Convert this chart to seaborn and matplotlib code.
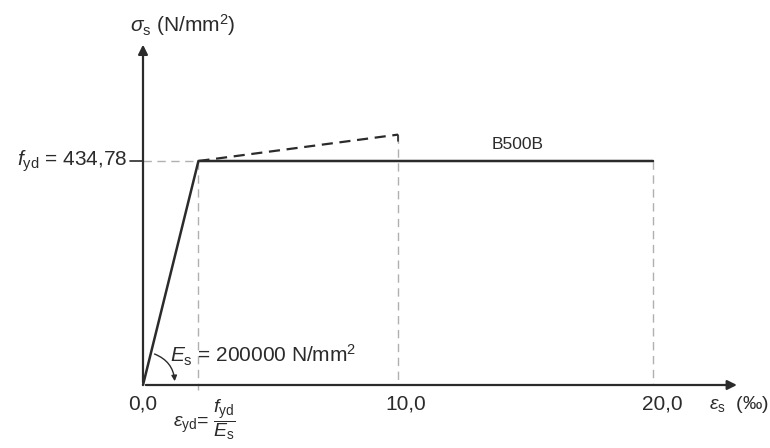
import numpy as np
import matplotlib
matplotlib.use("Agg")
import matplotlib.pyplot as plt
import seaborn as sns

# steel stress-strain diagram B500B
f_yd = 434.78
E_s = 200000.0
eps_yd = f_yd / E_s * 1000  # in permille

curve_eps = [0.0, eps_yd, 20.0]
curve_sig = [0.0, f_yd, f_yd]

hard_eps = [eps_yd, 10.0]
hard_sig = [f_yd, 486.0]

tick_vals = [0.0, 10.0, 20.0]
tick_labels = ["0,0", "10,0", "20,0"]
tick_pos = [0.0, 10.3, 20.35]

sns.set_style("white")
plt.rcParams["font.family"] = ["Liberation Sans", "DejaVu Sans"]
plt.rcParams["mathtext.fontset"] = "custom"
plt.rcParams["mathtext.rm"] = "Liberation Sans"
plt.rcParams["mathtext.it"] = "Liberation Sans:italic"

fig = plt.figure(figsize=(7.7, 4.48), dpi=100)
ax = fig.add_axes([0, 0, 1, 1])
ax.set_xlim(-143 / 25.5, (770 - 143) / 25.5)
ax.set_ylim(-(448 - 385) / 0.5152, 385 / 0.5152)
ax.axis("off")

dark = "#2b2b2b"
light = "#b0b0b0"

# axes with arrows
ax.annotate("", xy=(23.4, 0), xytext=(0, 0),
            arrowprops=dict(arrowstyle="-|>", color=dark, lw=1.6, mutation_scale=14))
ax.annotate("", xy=(0, 666), xytext=(0, 0),
            arrowprops=dict(arrowstyle="-|>", color=dark, lw=1.6, mutation_scale=14))

# helper dashed lines
ax.plot([0, eps_yd], [f_yd, f_yd], ls=(0, (6, 4)), color=light, lw=1)
ax.plot([-0.5, 0], [f_yd, f_yd], color=dark, lw=1.2)
ax.plot([eps_yd, eps_yd], [f_yd, -10], ls=(0, (6, 4)), color=light, lw=1)
ax.plot([hard_eps[1], hard_eps[1]], [hard_sig[1], 0], ls=(0, (6, 4)), color=light, lw=1)
ax.plot([curve_eps[2], curve_eps[2]], [curve_sig[2], 0], ls=(0, (6, 4)), color=light, lw=1)
ax.plot([hard_eps[1], hard_eps[1]], [hard_sig[1], hard_sig[1] - 12], color=dark, lw=1.2)

# design curves
sns.lineplot(x=curve_eps, y=curve_sig, ax=ax, color=dark, lw=1.8, sort=False)
sns.lineplot(x=hard_eps, y=hard_sig, ax=ax, color=dark, lw=1.6, sort=False,
             linestyle=(0, (5, 3)))

# angle arc for E_s
ax.annotate("", xy=(1.25, 2), xytext=(0.35, 62),
            arrowprops=dict(arrowstyle="-|>", color=dark, lw=1,
                            connectionstyle="arc3,rad=-0.35", mutation_scale=8))

# texts
fs = 15
for p, lab in zip(tick_pos, tick_labels):
    ax.text(p, -37, lab, ha="center", va="center", fontsize=fs, color=dark)
ax.text(24.55, -37, r"$\varepsilon_{\mathrm{s}}$  (‰)", ha="right", va="center",
        fontsize=14, color=dark)
ax.text(-0.5, 698, r"$\sigma_{\mathrm{s}}$ (N/mm$^{2}$)", ha="left", va="center",
        fontsize=fs, color=dark)
ax.text(-0.6, f_yd, r"$f_{\mathrm{yd}}$ = 434,78", ha="right", va="center",
        fontsize=fs, color=dark)
ax.text(14.7, 466, "B500B", ha="center", va="center", fontsize=12.5, color=dark)
ax.text(1.06, 58, r"$E_{\mathrm{s}}$ = 200000 N/mm$^{2}$", ha="left", va="center",
        fontsize=fs, color=dark)
ax.text(2.4, -111, r"$\varepsilon_{\mathrm{yd}}$= $\dfrac{f_{\mathrm{yd}}}{E_{\mathrm{s}}}$",
        ha="center", va="bottom", fontsize=14, color=dark)

fig.savefig("out.png", dpi=100)
